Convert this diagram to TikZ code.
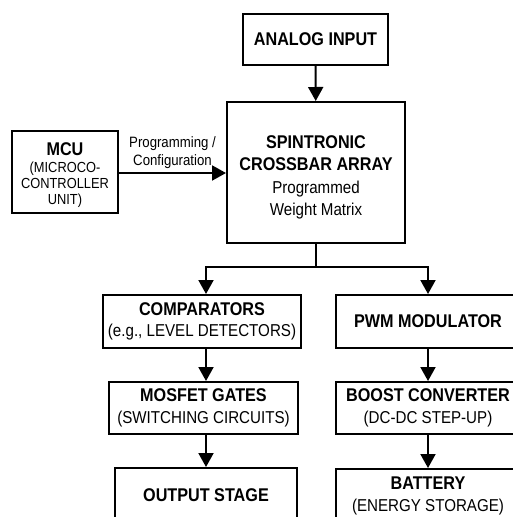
\documentclass[tikz,border=0pt]{standalone}
\usepackage{fontspec}
\setmainfont{Liberation Sans}[FakeStretch=0.88]
\usetikzlibrary{arrows.meta}

\tikzset{
    block/.style={draw, line width=2pt, align=center, inner sep=0pt,
        font=\fontsize{17.2}{21.5}\selectfont},
    arr/.style={line width=2pt, -{Triangle[length=14pt,width=15pt]}},
    line/.style={line width=2pt}
}
\newcommand{\ttl}[1]{{\fontsize{18.4}{22}\selectfont\bfseries #1}}
\newcommand{\smsub}[1]{{\fontsize{14.6}{16.5}\selectfont #1}}

\begin{document}
\begin{tikzpicture}[x=1pt, y=-1pt]
    \path[use as bounding box, clip] (0,0) rectangle (513,517);

    % Top of the chain
    \node [block, minimum width=145pt, minimum height=51pt] (input) at (315.5,39.5) {\ttl{ANALOG INPUT}};
    \node [block, minimum width=178pt, minimum height=141pt] (xbar) at (316,172.5)
        {\rule{0pt}{23pt}\ttl{SPINTRONIC}\\\ttl{CROSSBAR ARRAY}\\[2pt]Programmed\\Weight Matrix};
    \node [block, minimum width=106pt, minimum height=82pt,
        font=\fontsize{14.6}{16.3}\selectfont] (mcu) at (65,172)
        {\rule{0pt}{19pt}\ttl{MCU}\\[1pt]\smsub{(MICROCO-}\\\smsub{CONTROLLER}\\\smsub{UNIT)}};

    \draw [arr] (input) -- (xbar);
    \draw [arr] (mcu.east |- 0,173) coordinate (prog) -- (xbar.west |- prog)
        node [midway, above=0pt, align=center, font=\fontsize{15}{18}\selectfont] {Programming /\\Configuration};

    % Left column
    \node [block, minimum width=198pt, minimum height=53pt] (comp) at (202,321.5)
        {\ttl{COMPARATORS}\\(e.g., LEVEL DETECTORS)};
    \node [block, minimum width=189pt, minimum height=52pt] (mos) at (203.5,408)
        {\ttl{MOSFET GATES}\\(SWITCHING CIRCUITS)};
    \node [block, minimum width=182pt, minimum height=54pt] (out) at (206,495)
        {\ttl{OUTPUT STAGE}};

    % Right column
    \node [block, minimum width=184pt, minimum height=53pt] (pwm) at (428,321.5)
        {\ttl{PWM MODULATOR}};
    \node [block, minimum width=184pt, minimum height=52pt] (boost) at (428,408)
        {\ttl{BOOST CONVERTER}\\(DC-DC STEP-UP)};
    \node [block, minimum width=184pt, minimum height=54pt] (bat) at (428,496)
        {\ttl{BATTERY}\\(ENERGY STORAGE)};

    % Split below the array
    \coordinate (split) at (316,267);
    \coordinate (lcol) at (206,267);
    \coordinate (rcol) at (428,267);
    \draw [line] (xbar.south) -- (split);
    \draw [arr] (split) -| (comp.north -| lcol);
    \draw [arr] (split) -| (pwm.north -| rcol);

    \draw [arr] (comp.south -| lcol) -- (mos.north -| lcol);
    \draw [arr] (mos.south -| lcol) -- (out.north -| lcol);
    \draw [arr] (pwm) -- (boost);
    \draw [arr] (boost) -- (bat);

\end{tikzpicture}
\end{document}
